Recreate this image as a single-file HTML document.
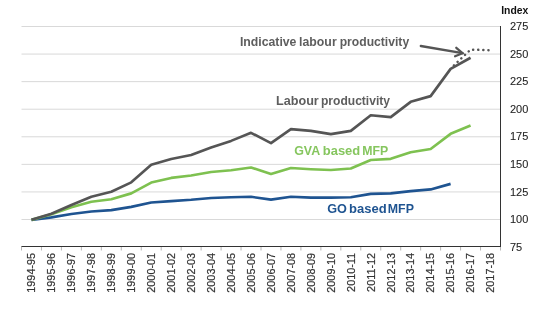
<!DOCTYPE html>
<html><head><meta charset="utf-8"><style>
html,body{margin:0;padding:0;background:#fff;}
body{width:533px;height:312px;overflow:hidden;}
svg{display:block;will-change:transform;}
text{font-family:"Liberation Sans",sans-serif;}
</style></head><body>
<svg width="533" height="312" viewBox="0 0 533 312">
<rect width="533" height="312" fill="#fff"/>
<line x1="21.50" y1="219.50" x2="500.50" y2="219.50" stroke="#D9D9D9" stroke-width="1"/>
<line x1="21.50" y1="191.93" x2="500.50" y2="191.93" stroke="#D9D9D9" stroke-width="1"/>
<line x1="21.50" y1="164.36" x2="500.50" y2="164.36" stroke="#D9D9D9" stroke-width="1"/>
<line x1="21.50" y1="136.79" x2="500.50" y2="136.79" stroke="#D9D9D9" stroke-width="1"/>
<line x1="21.50" y1="109.21" x2="500.50" y2="109.21" stroke="#D9D9D9" stroke-width="1"/>
<line x1="21.50" y1="81.64" x2="500.50" y2="81.64" stroke="#D9D9D9" stroke-width="1"/>
<line x1="21.50" y1="54.07" x2="500.50" y2="54.07" stroke="#D9D9D9" stroke-width="1"/>
<line x1="21.50" y1="26.50" x2="500.50" y2="26.50" stroke="#D9D9D9" stroke-width="1"/>

<line x1="21.50" y1="246.5" x2="21.50" y2="250.5" stroke="#A6A6A6" stroke-width="0.8"/>
<line x1="41.46" y1="246.5" x2="41.46" y2="250.5" stroke="#A6A6A6" stroke-width="0.8"/>
<line x1="61.42" y1="246.5" x2="61.42" y2="250.5" stroke="#A6A6A6" stroke-width="0.8"/>
<line x1="81.38" y1="246.5" x2="81.38" y2="250.5" stroke="#A6A6A6" stroke-width="0.8"/>
<line x1="101.33" y1="246.5" x2="101.33" y2="250.5" stroke="#A6A6A6" stroke-width="0.8"/>
<line x1="121.29" y1="246.5" x2="121.29" y2="250.5" stroke="#A6A6A6" stroke-width="0.8"/>
<line x1="141.25" y1="246.5" x2="141.25" y2="250.5" stroke="#A6A6A6" stroke-width="0.8"/>
<line x1="161.21" y1="246.5" x2="161.21" y2="250.5" stroke="#A6A6A6" stroke-width="0.8"/>
<line x1="181.17" y1="246.5" x2="181.17" y2="250.5" stroke="#A6A6A6" stroke-width="0.8"/>
<line x1="201.12" y1="246.5" x2="201.12" y2="250.5" stroke="#A6A6A6" stroke-width="0.8"/>
<line x1="221.08" y1="246.5" x2="221.08" y2="250.5" stroke="#A6A6A6" stroke-width="0.8"/>
<line x1="241.04" y1="246.5" x2="241.04" y2="250.5" stroke="#A6A6A6" stroke-width="0.8"/>
<line x1="261.00" y1="246.5" x2="261.00" y2="250.5" stroke="#A6A6A6" stroke-width="0.8"/>
<line x1="280.96" y1="246.5" x2="280.96" y2="250.5" stroke="#A6A6A6" stroke-width="0.8"/>
<line x1="300.92" y1="246.5" x2="300.92" y2="250.5" stroke="#A6A6A6" stroke-width="0.8"/>
<line x1="320.88" y1="246.5" x2="320.88" y2="250.5" stroke="#A6A6A6" stroke-width="0.8"/>
<line x1="340.83" y1="246.5" x2="340.83" y2="250.5" stroke="#A6A6A6" stroke-width="0.8"/>
<line x1="360.79" y1="246.5" x2="360.79" y2="250.5" stroke="#A6A6A6" stroke-width="0.8"/>
<line x1="380.75" y1="246.5" x2="380.75" y2="250.5" stroke="#A6A6A6" stroke-width="0.8"/>
<line x1="400.71" y1="246.5" x2="400.71" y2="250.5" stroke="#A6A6A6" stroke-width="0.8"/>
<line x1="420.67" y1="246.5" x2="420.67" y2="250.5" stroke="#A6A6A6" stroke-width="0.8"/>
<line x1="440.62" y1="246.5" x2="440.62" y2="250.5" stroke="#A6A6A6" stroke-width="0.8"/>
<line x1="460.58" y1="246.5" x2="460.58" y2="250.5" stroke="#A6A6A6" stroke-width="0.8"/>
<line x1="480.54" y1="246.5" x2="480.54" y2="250.5" stroke="#A6A6A6" stroke-width="0.8"/>
<line x1="500.50" y1="246.5" x2="500.50" y2="250.5" stroke="#A6A6A6" stroke-width="0.8"/>

<line x1="21.50" y1="246.5" x2="501.00" y2="246.5" stroke="#333" stroke-width="1"/>
<line x1="500.50" y1="26.00" x2="500.50" y2="247" stroke="#333" stroke-width="1"/>
<g transform="translate(0,0.35)">
<polyline points="31.48,219.50 51.44,217.07 71.40,213.66 91.35,211.12 111.31,209.80 131.27,206.49 151.23,202.19 171.19,200.75 191.15,199.43 211.10,197.66 231.06,196.89 251.02,196.45 270.98,199.32 290.94,196.45 310.90,197.22 330.85,197.22 350.81,196.89 370.77,193.47 390.73,193.03 410.69,190.72 430.65,189.06 450.60,183.55" fill="none" stroke="#1F5491" stroke-width="2.65" stroke-linejoin="round"/>
<polyline points="31.48,219.50 51.44,213.99 71.40,206.82 91.35,201.41 111.31,198.88 131.27,193.03 151.23,182.22 171.19,177.59 191.15,175.17 211.10,171.64 231.06,169.87 251.02,167.11 270.98,173.62 290.94,167.67 310.90,168.88 330.85,169.65 350.81,168.11 370.77,159.62 390.73,158.51 410.69,151.90 430.65,148.59 450.60,133.48 470.56,125.21" fill="none" stroke="#7EC150" stroke-width="2.65" stroke-linejoin="round"/>
<polyline points="31.48,219.50 51.44,213.43 71.40,204.61 91.35,196.34 111.31,191.38 131.27,182.00 151.23,164.47 171.19,158.62 191.15,154.65 211.10,147.04 231.06,140.54 251.02,132.48 270.98,142.74 290.94,128.74 310.90,130.50 330.85,133.81 350.81,130.50 370.77,114.95 390.73,116.82 410.69,101.49 430.65,95.76 450.60,68.52 470.56,57.38" fill="none" stroke="#555555" stroke-width="2.65" stroke-linejoin="round"/>
</g>
<polyline points="450.60,68.52 470.56,49.66 490.52,50.21" fill="none" stroke="#555555" stroke-width="2.5" stroke-linecap="round" stroke-dasharray="0.1 5" stroke-dashoffset="0.6"/>
<g stroke="#555555" stroke-width="2.3" fill="none" stroke-linecap="round">
<line x1="420.8" y1="46.0" x2="462.5" y2="53.2"/>
<polyline points="456.3,47.8 462.5,53.2 455.1,56.2"/>
</g>
<g fill="#262626" font-size="11" stroke="#262626" stroke-width="0.1">
<text x="510" y="250.67">75</text>
<text x="510" y="223.10">100</text>
<text x="510" y="195.53">125</text>
<text x="510" y="167.96">150</text>
<text x="510" y="140.39">175</text>
<text x="510" y="112.81">200</text>
<text x="510" y="85.24">225</text>
<text x="510" y="57.67">250</text>
<text x="510" y="30.10">275</text>

</g>
<g fill="#333" font-size="10.85" stroke="#333" stroke-width="0.2">
<text transform="translate(35.28,252.9) rotate(-90)" text-anchor="end">1994-95</text>
<text transform="translate(55.24,252.9) rotate(-90)" text-anchor="end">1995-96</text>
<text transform="translate(75.20,252.9) rotate(-90)" text-anchor="end">1996-97</text>
<text transform="translate(95.15,252.9) rotate(-90)" text-anchor="end">1997-98</text>
<text transform="translate(115.11,252.9) rotate(-90)" text-anchor="end">1998-99</text>
<text transform="translate(135.07,252.9) rotate(-90)" text-anchor="end">1999-00</text>
<text transform="translate(155.03,252.9) rotate(-90)" text-anchor="end">2000-01</text>
<text transform="translate(174.99,252.9) rotate(-90)" text-anchor="end">2001-02</text>
<text transform="translate(194.95,252.9) rotate(-90)" text-anchor="end">2002-03</text>
<text transform="translate(214.90,252.9) rotate(-90)" text-anchor="end">2003-04</text>
<text transform="translate(234.86,252.9) rotate(-90)" text-anchor="end">2004-05</text>
<text transform="translate(254.82,252.9) rotate(-90)" text-anchor="end">2005-06</text>
<text transform="translate(274.78,252.9) rotate(-90)" text-anchor="end">2006-07</text>
<text transform="translate(294.74,252.9) rotate(-90)" text-anchor="end">2007-08</text>
<text transform="translate(314.70,252.9) rotate(-90)" text-anchor="end">2008-09</text>
<text transform="translate(334.65,252.9) rotate(-90)" text-anchor="end">2009-10</text>
<text transform="translate(354.61,252.9) rotate(-90)" text-anchor="end">2010-11</text>
<text transform="translate(374.57,252.9) rotate(-90)" text-anchor="end">2011-12</text>
<text transform="translate(394.53,252.9) rotate(-90)" text-anchor="end">2012-13</text>
<text transform="translate(414.49,252.9) rotate(-90)" text-anchor="end">2013-14</text>
<text transform="translate(434.45,252.9) rotate(-90)" text-anchor="end">2014-15</text>
<text transform="translate(454.40,252.9) rotate(-90)" text-anchor="end">2015-16</text>
<text transform="translate(474.36,252.9) rotate(-90)" text-anchor="end">2016-17</text>
<text transform="translate(494.32,252.9) rotate(-90)" text-anchor="end">2017-18</text>

</g>
<text x="239.90" y="46.0" font-size="12" font-weight="bold" fill="#5E5E5E" textLength="56.55" lengthAdjust="spacingAndGlyphs">Indicative</text>
<text x="299.10" y="46.0" font-size="12" font-weight="bold" fill="#5E5E5E" textLength="37.57" lengthAdjust="spacingAndGlyphs">labour</text>
<text x="339.70" y="46.0" font-size="12" font-weight="bold" fill="#5E5E5E" textLength="69.47" lengthAdjust="spacingAndGlyphs">productivity</text>
<text x="276.00" y="104.7" font-size="12" font-weight="bold" fill="#5E5E5E" textLength="42.76" lengthAdjust="spacingAndGlyphs">Labour</text>
<text x="321.00" y="104.7" font-size="12" font-weight="bold" fill="#5E5E5E" textLength="68.97" lengthAdjust="spacingAndGlyphs">productivity</text>
<text x="294.20" y="154.9" font-size="12" font-weight="bold" fill="#86C65F" textLength="26.01" lengthAdjust="spacingAndGlyphs">GVA</text>
<text x="322.80" y="154.9" font-size="12" font-weight="bold" fill="#86C65F" textLength="37.38" lengthAdjust="spacingAndGlyphs">based</text>
<text x="362.30" y="154.9" font-size="12" font-weight="bold" fill="#86C65F" textLength="25.93" lengthAdjust="spacingAndGlyphs">MFP</text>
<text x="327.25" y="212.5" font-size="12" font-weight="bold" fill="#1F5491" textLength="19.72" lengthAdjust="spacingAndGlyphs">GO</text>
<text x="349.00" y="212.5" font-size="12" font-weight="bold" fill="#1F5491" textLength="37.58" lengthAdjust="spacingAndGlyphs">based</text>
<text x="387.80" y="212.5" font-size="12" font-weight="bold" fill="#1F5491" textLength="26.13" lengthAdjust="spacingAndGlyphs">MFP</text>
<text x="501.21" y="13.6" font-size="10.3" font-weight="bold" fill="#111" textLength="27.11" lengthAdjust="spacingAndGlyphs">Index</text>

</svg>
</body></html>
